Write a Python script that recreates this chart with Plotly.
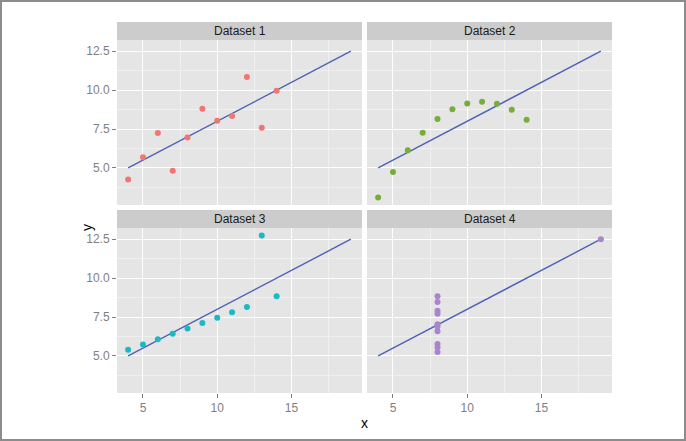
import plotly.graph_objects as go

datasets = ["Dataset 1", "Dataset 2", "Dataset 3", "Dataset 4"]
x123 = [10, 8, 13, 9, 11, 14, 6, 4, 12, 7, 5]
x4 = [8, 8, 8, 8, 8, 8, 8, 19, 8, 8, 8]
y1 = [8.04, 6.95, 7.58, 8.81, 8.33, 9.96, 7.24, 4.26, 10.84, 4.82, 5.68]
y2 = [9.14, 8.14, 8.74, 8.77, 9.26, 8.10, 6.13, 3.10, 9.13, 7.26, 4.74]
y3 = [7.46, 6.77, 12.74, 7.11, 7.81, 8.84, 6.08, 5.39, 8.15, 6.42, 5.73]
y4 = [6.58, 5.76, 7.71, 8.84, 8.47, 7.04, 5.25, 12.50, 5.56, 7.91, 6.89]
xs = [x123, x123, x123, x4]
ys = [y1, y2, y3, y4]
colors = ["#F07670", "#77AD3B", "#1BB8C6", "#A985CC"]
line_x = [4, 19]
intercept, slope = 3.0, 0.5
x_ticks = [5, 10, 15]
y_ticks = [5.0, 7.5, 10.0, 12.5]
y_tick_labels = ["5.0", "7.5", "10.0", "12.5"]

W, H = 686, 441
L, R, T, B = 117, 74, 22, 48
PW = W - L - R  # 495
PH = H - T - B  # 371

def fy(px_from_top):
    return (H - B - px_from_top) / PH

col_domains = [[0, 245 / PW], [250 / PW, 1]]
row_domains = [[fy(205), fy(40)], [fy(393), fy(228)]]
strip_domains = [[fy(40), fy(22)], [fy(228), fy(210)]]

fig = go.Figure()
xr = [3.25, 19.75]
yr = [2.618, 13.222]
tfont = dict(family="Liberation Sans, Arial", size=12, color="#7F7F7F")

for i in range(4):
    r, c = divmod(i, 2)
    ax = "" if i == 0 else str(i + 1)
    xa, ya = "x" + ax, "y" + ax
    fig.add_trace(go.Scatter(
        x=line_x, y=[intercept + slope * v for v in line_x], mode="lines",
        line=dict(color="#4D62B4", width=1.4), xaxis=xa, yaxis=ya,
        showlegend=False, hoverinfo="skip"))
    fig.add_trace(go.Scatter(
        x=xs[i], y=ys[i], mode="markers",
        marker=dict(color=colors[i], size=6, line=dict(width=0)),
        xaxis=xa, yaxis=ya, showlegend=False))
    common = dict(showline=False, zeroline=False, gridcolor="white", gridwidth=1.2,
                  minor=dict(showgrid=True, gridcolor="#F0F0F0", gridwidth=0.6),
                  ticklen=4, tickcolor="#7F7F7F", tickwidth=1, tickfont=tfont)
    fig.layout["xaxis" + ax] = dict(
        domain=col_domains[c], range=xr, anchor=ya,
        tickvals=x_ticks, minor_tickvals=[2.5, 7.5, 12.5, 17.5],
        showticklabels=(r == 1), ticks="outside" if r == 1 else "", **common)
    fig.layout["yaxis" + ax] = dict(
        domain=row_domains[r], range=yr, anchor=xa,
        tickvals=y_ticks, ticktext=y_tick_labels,
        minor_tickvals=[3.75, 6.25, 8.75, 11.25],
        showticklabels=(c == 0), ticks="outside" if c == 0 else "", **common)
    fig.add_shape(type="rect", xref="paper", yref="paper",
                  x0=col_domains[c][0], x1=col_domains[c][1],
                  y0=row_domains[r][0], y1=row_domains[r][1],
                  fillcolor="#E5E5E5", line_width=0, layer="below")
    fig.add_shape(type="rect", xref="paper", yref="paper",
                  x0=col_domains[c][0], x1=col_domains[c][1],
                  y0=strip_domains[r][0], y1=strip_domains[r][1],
                  fillcolor="#CCCCCC", line_width=0, layer="below")
    fig.add_annotation(text=datasets[i], xref="paper", yref="paper",
                       x=sum(col_domains[c]) / 2, y=sum(strip_domains[r]) / 2,
                       showarrow=False, xanchor="center", yanchor="middle",
                       font=dict(family="Liberation Sans, Arial", size=12, color="#1A1A1A"))

fig.add_annotation(text="x", xref="paper", yref="paper", x=0.5, y=fy(423),
                   showarrow=False, xanchor="center", yanchor="middle",
                   font=dict(family="Liberation Sans, Arial", size=14, color="black"))
fig.add_annotation(text="y", xref="paper", yref="paper", x=(87 - L) / PW, y=fy(228),
                   showarrow=False, xanchor="center", yanchor="middle", textangle=-90,
                   font=dict(family="Liberation Sans, Arial", size=14, color="black"))
fig.add_shape(type="rect", xref="paper", yref="paper",
              x0=(1 - L) / PW, x1=(W - 1 - L) / PW, y0=fy(H - 1), y1=fy(1),
              line=dict(color="#8C8C8C", width=2), fillcolor="rgba(0,0,0,0)", layer="above")

fig.update_layout(width=W, height=H, margin=dict(l=L, r=R, t=T, b=B),
                  paper_bgcolor="white", plot_bgcolor="rgba(0,0,0,0)", showlegend=False)
fig.write_html("out.html")
